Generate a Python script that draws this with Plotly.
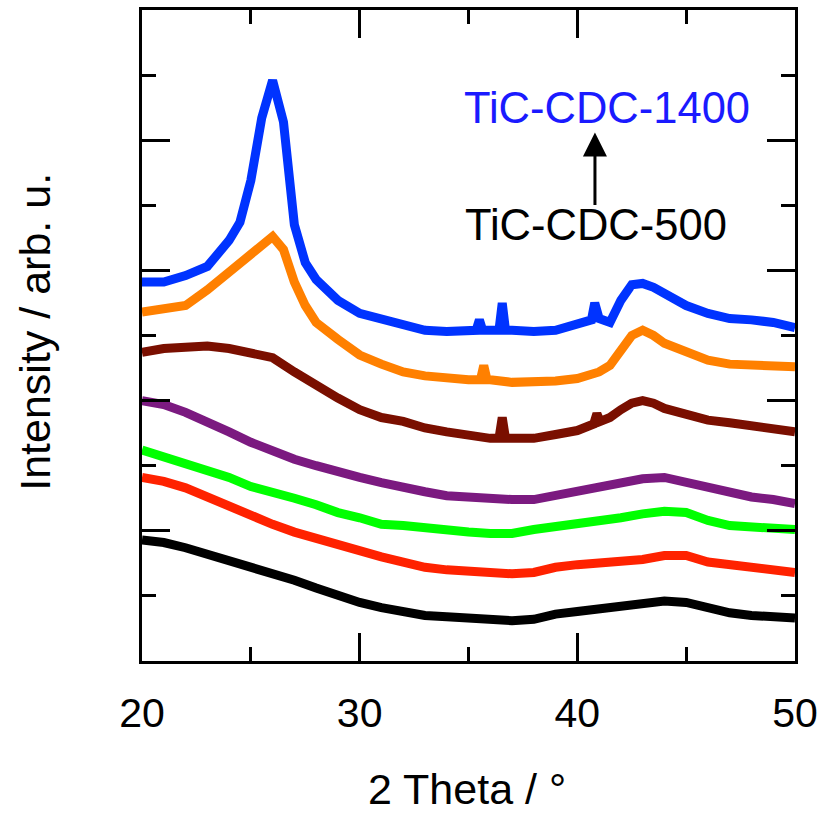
import plotly.graph_objects as go

# 2-theta positions (degrees)
x_main = [20, 21, 22, 23, 24, 25, 26, 27, 28, 29, 30, 31, 32, 33, 34, 35, 36, 37, 38, 39, 40,
          41, 42, 43, 44, 45, 46, 47, 48, 49, 50]

# --- TiC-CDC-1400 (blue) ---
x_blue = [20, 21, 22, 23, 24, 24.5, 25, 25.5, 26, 26.5, 27, 27.5, 28, 29, 30, 31, 32, 33, 34, 35,
          35.35, 35.5, 35.65, 36, 36.4, 36.55, 36.7, 37, 38, 39, 40, 40.65, 40.8, 40.95, 41, 41.5,
          42, 42.5, 43, 43.5, 44, 45, 46, 47, 48, 49, 50]
y_blue = [2.91, 2.91, 2.96, 3.03, 3.23, 3.37, 3.69, 4.17, 4.46, 4.14, 3.35, 3.06, 2.93, 2.77, 2.67, 2.63, 2.58, 2.54, 2.53, 2.54,
          2.54, 2.62, 2.54, 2.54, 2.54, 2.75, 2.54, 2.54, 2.53, 2.54, 2.58, 2.62, 2.75, 2.64, 2.63, 2.60,
          2.77, 2.89, 2.90, 2.87, 2.82, 2.73, 2.67, 2.63, 2.62, 2.60, 2.56]

# --- orange ---
x_orange = [20, 21, 22, 23, 24, 24.5, 25, 25.5, 26, 26.5, 27, 27.5, 28, 29, 30, 31, 32, 33, 34, 35,
            35.55, 35.7, 35.85, 36, 37, 38, 39, 40, 41, 41.5, 42, 42.5, 43, 43.5, 44, 45, 46, 47, 48, 49, 50]
y_orange = [2.68, 2.70, 2.73, 2.85, 2.99, 3.06, 3.14, 3.21, 3.26, 3.16, 2.91, 2.73, 2.60, 2.47, 2.35, 2.28, 2.22, 2.19, 2.17, 2.16,
            2.16, 2.27, 2.16, 2.16, 2.14, 2.14, 2.15, 2.17, 2.22, 2.27, 2.39, 2.50, 2.54, 2.50, 2.44, 2.37, 2.31, 2.28, 2.27, 2.26, 2.26]

# --- dark red ---
x_maroon = [20, 21, 22, 23, 24, 25, 26, 27, 28, 29, 30, 31, 32, 33, 34, 35, 36, 36.4, 36.55, 36.7, 37, 38, 39, 40,
            40.75, 40.9, 41.05, 41.5, 42, 42.5, 43, 43.5, 44, 45, 46, 47, 48, 49, 50]
y_maroon = [2.37, 2.40, 2.41, 2.42, 2.40, 2.37, 2.33, 2.22, 2.11, 2.02, 1.93, 1.87, 1.84, 1.79, 1.76, 1.73, 1.71, 1.71, 1.87, 1.71, 1.71, 1.71, 1.74, 1.77,
            1.82, 1.90, 1.84, 1.87, 1.93, 1.98, 2.00, 1.98, 1.94, 1.89, 1.85, 1.83, 1.81, 1.79, 1.76]

# --- purple ---
y_purple = [2.00, 1.97, 1.91, 1.84, 1.76, 1.68, 1.61, 1.55, 1.50, 1.45, 1.41, 1.37, 1.33, 1.30, 1.27, 1.26, 1.24, 1.24, 1.24, 1.27, 1.30,
            1.34, 1.36, 1.40, 1.41, 1.37, 1.33, 1.29, 1.26, 1.24, 1.21]

# --- green ---
y_green = [1.62, 1.57, 1.52, 1.47, 1.41, 1.34, 1.30, 1.25, 1.20, 1.14, 1.10, 1.05, 1.04, 1.02, 1.01, 0.99, 0.98, 0.98, 1.01, 1.03, 1.05,
           1.08, 1.10, 1.13, 1.15, 1.14, 1.08, 1.04, 1.03, 1.01, 1.01]

# --- red ---
y_red = [1.41, 1.38, 1.33, 1.26, 1.18, 1.11, 1.05, 0.99, 0.94, 0.89, 0.84, 0.80, 0.76, 0.72, 0.70, 0.69, 0.68, 0.67, 0.68, 0.72, 0.74,
         0.75, 0.77, 0.78, 0.81, 0.81, 0.76, 0.74, 0.71, 0.69, 0.68]

# --- black (TiC-CDC-500) ---
y_black = [0.93, 0.91, 0.87, 0.82, 0.78, 0.73, 0.68, 0.62, 0.56, 0.50, 0.45, 0.41, 0.38, 0.35, 0.34, 0.33, 0.32, 0.31, 0.32, 0.36, 0.38,
           0.40, 0.41, 0.44, 0.46, 0.45, 0.41, 0.37, 0.35, 0.34, 0.33]

series = [
    (x_main, y_black, "#000000"),
    (x_main, y_red, "#FF2200"),
    (x_main, y_green, "#00FF00"),
    (x_main, y_purple, "#7B1A80"),
    (x_maroon, y_maroon, "#7A0F00"),
    (x_orange, y_orange, "#FF8000"),
    (x_blue, y_blue, "#0033FF"),
]

FONT = "Liberation Sans, Arial, Helvetica, sans-serif"

fig = go.Figure()
for xs, ys, col in series:
    fig.add_trace(go.Scatter(x=xs, y=ys, mode="lines", line=dict(color=col, width=9),
                             showlegend=False, hoverinfo="skip"))

axis_common = dict(
    showline=True, linewidth=3, linecolor="black", mirror="ticks",
    ticks="inside", ticklen=28, tickwidth=3, tickcolor="black",
    showgrid=False, zeroline=False, automargin=False,
)

fig.update_xaxes(
    range=[20, 50], tick0=20, dtick=10,
    minor=dict(ticks="inside", ticklen=14, tickwidth=3, tickcolor="black", dtick=5, tick0=20, showgrid=False),
    tickfont=dict(family=FONT, size=41, color="black"),
    ticklabelstandoff=14,
    **axis_common,
)
fig.update_yaxes(
    range=[0, 5], tick0=0, dtick=1, showticklabels=False,
    minor=dict(ticks="inside", ticklen=14, tickwidth=3, tickcolor="black", dtick=0.5, tick0=0, showgrid=False),
    **axis_common,
)

# axis titles
fig.add_annotation(x=0.498, y=-0.237, xref="paper", yref="paper", text="2 Theta / °", showarrow=False,
                   font=dict(family=FONT, size=43, color="black"), xanchor="center", yanchor="bottom")
fig.add_annotation(x=-0.163, y=0.505, xref="paper", yref="paper", text="Intensity / arb. u.", showarrow=False,
                   textangle=-90, font=dict(family=FONT, size=43, color="black"), xanchor="center", yanchor="middle")

# labels and arrow
fig.add_annotation(x=41.36, y=4.25, xref="x", yref="y", text="TiC-CDC-1400", showarrow=False,
                   font=dict(family=FONT, size=43.5, color="#1A1AFF"), xanchor="center", yanchor="middle")
fig.add_annotation(x=40.85, y=3.35, xref="x", yref="y", text="TiC-CDC-500", showarrow=False,
                   font=dict(family=FONT, size=43.5, color="black"), xanchor="center", yanchor="middle")
fig.add_annotation(x=40.81, y=4.06, xref="x", yref="y", ax=40.81, ay=3.49, axref="x", ayref="y",
                   text="", showarrow=True, arrowhead=2, arrowsize=1.6, arrowwidth=3, arrowcolor="black")

fig.update_layout(
    width=821, height=817,
    margin=dict(l=142, r=26, t=10, b=156),
    paper_bgcolor="white", plot_bgcolor="white",
)

fig.write_html("out.html")
